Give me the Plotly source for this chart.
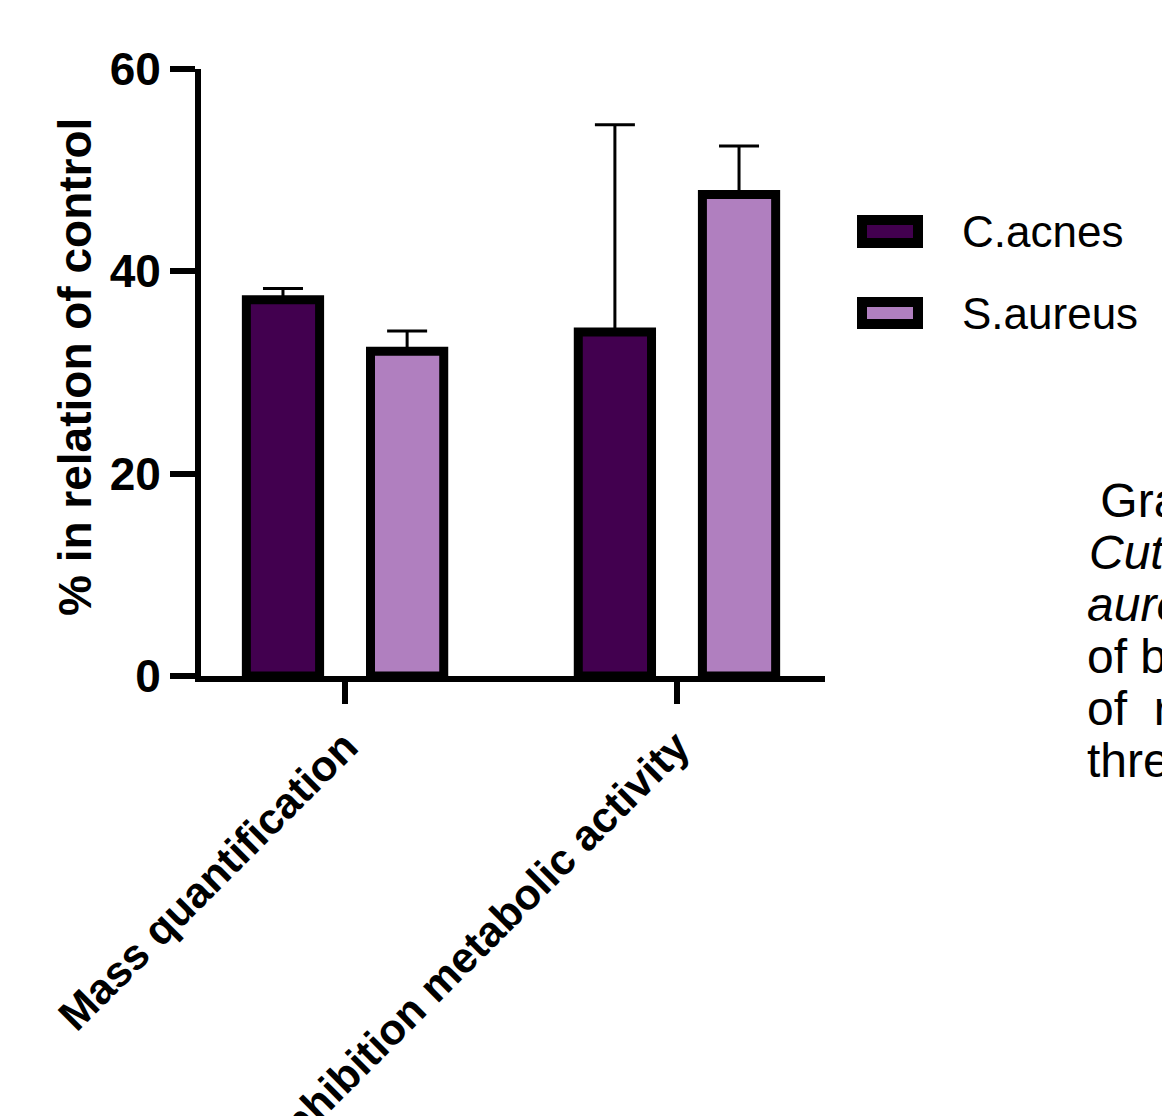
import plotly.graph_objects as go

# ---- data ----
categories = ["Mass quantification", "Inhibition metabolic activity"]
series_names = ["C.acnes", "S.aureus"]
cacnes_mean = [37.2, 34.0]
cacnes_err = [1.1, 20.5]
saureus_mean = [32.1, 47.6]
saureus_err = [2.0, 4.8]
series_colors = ["#42004f", "#b07fbf"]
y_ticks = [0, 20, 40, 60]
side_text = [" Gra", "<i>Cut</i>", "<i>aure</i>", "of b", "of  r", "thre"]

# ---- layout geometry (reference-window pixels; the page body adds an 8px margin) ----
OFF = 8
W, H = 1170 - OFF, 1116 - OFF
L, R, T, B = 201, 825, 69, 676   # plot area in window pixels
FONT = "Liberation Sans, Arial, sans-serif"


def px(x):
    return (x - L) / (R - L)


def py(y):
    return (B - y) / (B - T)


fig = go.Figure()
means = [cacnes_mean, saureus_mean]
errs = [cacnes_err, saureus_err]
for name, vals, e, c in zip(series_names, means, errs, series_colors):
    fig.add_trace(go.Bar(
        x=categories, y=vals, name=name,
        marker=dict(color=c, line=dict(color="black", width=9)),
        error_y=dict(type="data", array=e, arrayminus=[0] * len(e), symmetric=False,
                     color="black", thickness=3, width=20),
    ))

fig.update_layout(
    width=W, height=H,
    margin=dict(l=L - OFF, r=(1170 - R), t=T - OFF, b=(1116 - B), autoexpand=False),
    paper_bgcolor="white", plot_bgcolor="white",
    barmode="group", bargap=0.252, bargroupgap=0.41,
    showlegend=False,
    font=dict(family=FONT, color="black"),
)

fig.update_xaxes(
    range=[-0.434, 1.446], showgrid=False, zeroline=False,
    showline=True, linecolor="black", linewidth=6,
    ticks="outside", ticklen=22, tickwidth=6, tickcolor="black",
    tickangle=-45, automargin=False,
    tickfont=dict(family=FONT, size=43, color="black", weight="bold"),
)
fig.update_yaxes(
    range=[0, 60], tickvals=y_ticks, ticktext=[str(v) for v in y_ticks],
    showgrid=False, zeroline=False,
    showline=True, linecolor="black", linewidth=6,
    ticks="outside", ticklen=25, tickwidth=6, tickcolor="black",
    automargin=False,
    tickfont=dict(family=FONT, size=46, color="black", weight="bold"),
)

annotations = []
shapes = []
# y-axis title
annotations.append(dict(
    xref="paper", yref="paper", x=px(75), y=py(367),
    text="<b>% in relation of control</b>", textangle=-90, showarrow=False,
    font=dict(family=FONT, size=46, color="black"), xanchor="center", yanchor="middle",
))
# manual legend
legend_rows = [(220, 243), (302, 324)]
for (y0, y1), name, c in zip(legend_rows, series_names, series_colors):
    shapes.append(dict(
        type="rect", xref="paper", yref="paper",
        x0=px(862), x1=px(918), y0=py(y1), y1=py(y0),
        line=dict(color="black", width=10), fillcolor=c,
    ))
    annotations.append(dict(
        xref="paper", yref="paper", x=px(960), y=py((y0 + y1) / 2),
        text=name, showarrow=False, xanchor="left", yanchor="middle",
        font=dict(family=FONT, size=44, color="black"),
    ))
# cut-off caption text at the right edge
line_x = [1085, 1087, 1085, 1085, 1085, 1085]
for i, (t, xx) in enumerate(zip(side_text, line_x)):
    annotations.append(dict(
        xref="paper", yref="paper", x=px(xx), y=py(500 + 52 * i),
        text=t, showarrow=False, xanchor="left", yanchor="middle",
        font=dict(family=FONT, size=48, color="black"),
    ))

fig.update_layout(annotations=annotations, shapes=shapes)
fig.write_html("out.html")
